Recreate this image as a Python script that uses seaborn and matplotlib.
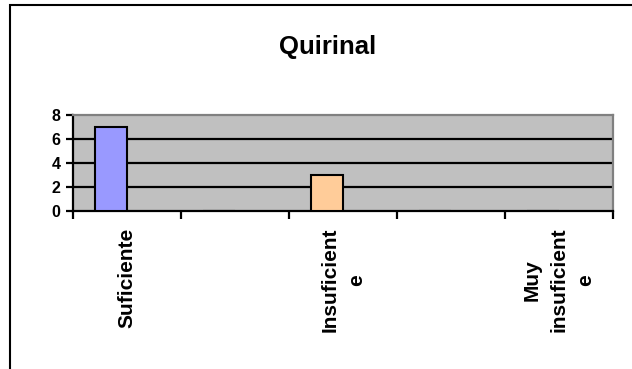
import matplotlib
matplotlib.use("Agg")
import matplotlib.pyplot as plt
import seaborn as sns
import pandas as pd
from matplotlib.patches import Rectangle

categories = ["Suficiente", "", "Insuficient\ne", "", "Muy\ninsuficient\ne"]
values = [7, 0, 3, 0, 0]
bar_colors = ["#9999FF", "#9999FF", "#FFCC99", "#FFCC99", "#FFCC99"]
title = "Quirinal"
yticks = [0, 2, 4, 6, 8]

sns.set_theme(style="white")
plt.rcParams["font.family"] = ["Liberation Sans", "DejaVu Sans"]
plt.rcParams["font.weight"] = "bold"
plt.rcParams["text.color"] = "black"
plt.rcParams["xtick.color"] = "black"
plt.rcParams["ytick.color"] = "black"
plt.rcParams["xtick.labelcolor"] = "black"
plt.rcParams["ytick.labelcolor"] = "black"

fig = plt.figure(figsize=(6.32, 3.69), dpi=100)
ax = fig.add_axes([73 / 632, 1 - 211 / 369, 540 / 632, 96 / 369])

cat_ids = [f"c{i}" for i in range(len(categories))]
df = pd.DataFrame({"cat": cat_ids, "val": values, "series": ["a"] * len(values)})
sns.barplot(data=df, x="cat", y="val", order=cat_ids, hue="series", hue_order=["a", "b"],
            palette={"a": "#9999FF", "b": "#FFCC99"}, dodge=True, legend=False,
            width=0.6, saturation=1, edgecolor="black", linewidth=1.5, ax=ax, zorder=3)

bars = [p for p in ax.patches if p.get_width() > 0]
for p, c in zip(bars, bar_colors):
    p.set_facecolor(c)

ax.set_facecolor("#C0C0C0")
ax.set_ylim(0, 8)
ax.set_xlim(-0.5, len(categories) - 0.5)
ax.set_yticks(yticks)
ax.set_yticklabels([str(v) for v in yticks], fontsize=11.5, fontweight="bold", color="black")
for y in yticks[1:-1]:
    ax.axhline(y, color="black", linewidth=1.6, zorder=2)

ax.set_xticks([i for i in range(len(categories))])
ax.set_xticklabels(categories, rotation=90, fontsize=15, fontweight="bold", color="black",
                   va="top", ha="center", multialignment="center", linespacing=1.5)
ax.tick_params(axis="x", which="major", length=0, pad=12)
ax.set_xticks([i - 0.5 for i in range(len(categories) + 1)], minor=True)
ax.tick_params(axis="x", which="minor", length=6, width=1.6, color="black", direction="out", bottom=True)
ax.tick_params(axis="y", length=5, width=1.6, color="black", direction="out", pad=4, left=True)
ax.set_xlabel("")
ax.set_ylabel("")

for side in ["left", "bottom"]:
    ax.spines[side].set_color("black")
    ax.spines[side].set_linewidth(1.6)
for side in ["top", "right"]:
    ax.spines[side].set_color("#808080")
    ax.spines[side].set_linewidth(1.6)
    ax.spines[side].set_visible(True)

fig.text(328 / 632, 1 - 47 / 369, title, ha="center", va="center",
         fontsize=18.5, fontweight="bold", color="black")

fig.patches.append(Rectangle((10 / 632, -0.1), 1.1, 1 - 5 / 369 + 0.1,
                             transform=fig.transFigure, fill=False,
                             edgecolor="black", linewidth=1.5))

fig.savefig("out.png", dpi=100, facecolor="white")
